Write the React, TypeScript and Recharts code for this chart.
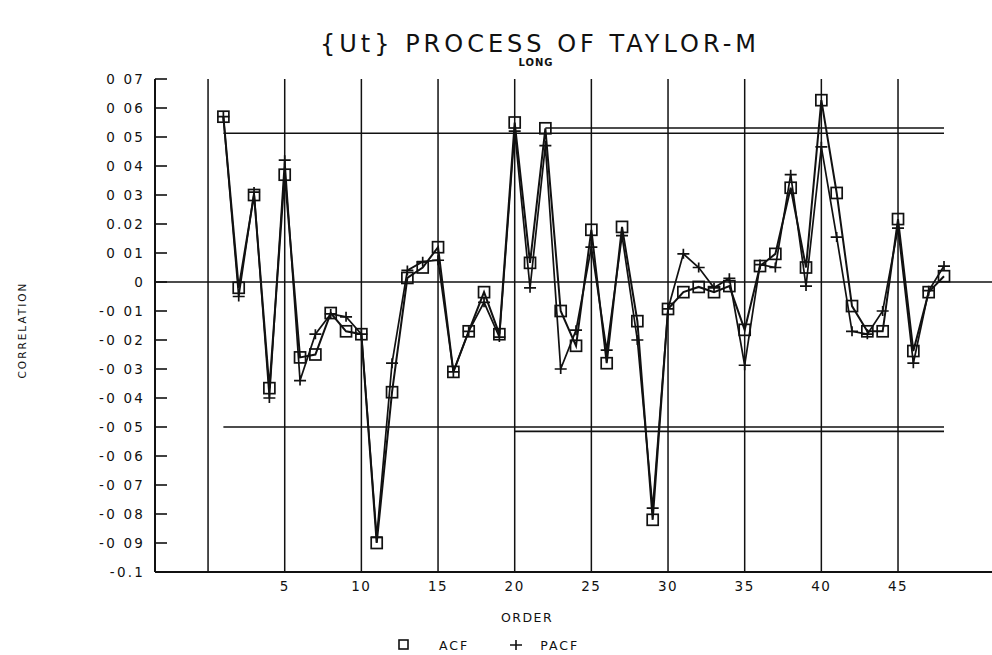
import React from 'react';
import { LineChart, Line, XAxis, YAxis, ReferenceLine } from 'recharts';

const lags = [1, 2, 3, 4, 5, 6, 7, 8, 9, 10, 11, 12, 13, 14, 15, 16, 17, 18, 19, 20, 21, 22, 23, 24, 25, 26, 27, 28, 29, 30, 31, 32, 33, 34, 35, 36, 37, 38, 39, 40, 41, 42, 43, 44, 45, 46, 47, 48];
const acf = [0.057, -0.002, 0.030, -0.0366, 0.037, -0.026, -0.025, -0.0107, -0.017, -0.018, -0.090, -0.038, 0.0014, 0.005, 0.012, -0.031, -0.017, -0.0035, -0.018, 0.055, 0.0066, 0.053, -0.010, -0.022, 0.018, -0.028, 0.019, -0.0135, -0.082, -0.0093, -0.0035, -0.0017, -0.0035, -0.0014, -0.0165, 0.0055, 0.0097, 0.0325, 0.005, 0.0627, 0.0307, -0.0083, -0.017, -0.017, 0.0217, -0.0238, -0.0035, 0.002];
const pacf = [0.057, -0.005, 0.031, -0.040, 0.042, -0.034, -0.018, -0.011, -0.012, -0.018, -0.088, -0.028, 0.004, 0.007, 0.0075, -0.031, -0.017, -0.007, -0.019, 0.052, -0.002, 0.047, -0.030, -0.0166, 0.012, -0.0235, 0.016, -0.020, -0.078, -0.0093, 0.0097, 0.005, -0.002, 0.0013, -0.0287, 0.006, 0.005, 0.037, -0.0014, 0.0466, 0.0155, -0.017, -0.018, -0.010, 0.0186, -0.028, -0.003, 0.0055];

const yTicks = [0.07, 0.06, 0.05, 0.04, 0.03, 0.02, 0.01, 0, -0.01, -0.02, -0.03, -0.04, -0.05, -0.06, -0.07, -0.08, -0.09, -0.1];
const yTickLabels = ['0 07', '0 06', '0 05', '0 04', '0 03', '0.02', '0 01', '0', '-0 01', '-0 02', '-0 03', '-0 04', '-0 05', '-0 06', '-0 07', '-0 08', '-0 09', '-0.1'];
const xTicks = [5, 10, 15, 20, 25, 30, 35, 40, 45];
const gridX = [0, 5, 10, 15, 20, 25, 30, 35, 40, 45];

const bandValues = [0.0513, 0.0531, -0.0500, -0.0515];
const bandStarts = [1, 22, 1, 20];
const bandEnd = 48;

const data = lags.map((lag, i) => ({ lag, acf: acf[i], pacf: pacf[i] }));

const INK = '#111';
const FONT = '"DejaVu Sans", sans-serif';

const SquareDot = (props: any) => {
  const { cx, cy, index } = props;
  if (cx == null || cy == null) return <g key={`s${index}`} />;
  return <rect key={`s${index}`} x={cx - 5.5} y={cy - 5.5} width={11} height={11} fill="none" stroke={INK} strokeWidth={1.7} />;
};

const PlusDot = (props: any) => {
  const { cx, cy, index } = props;
  if (cx == null || cy == null) return <g key={`p${index}`} />;
  return <path key={`p${index}`} d={`M${cx - 6},${cy}H${cx + 6}M${cx},${cy - 5}V${cy + 5}`} stroke={INK} strokeWidth={1.7} fill="none" />;
};

const YTick = (props: any) => {
  const { x, y, payload } = props;
  const idx = yTicks.findIndex((t) => Math.abs(t - payload.value) < 1e-9);
  const label = idx >= 0 ? yTickLabels[idx] : String(payload.value);
  return (
    <g>
      <line x1={x} x2={x + 12} y1={y} y2={y} stroke={INK} strokeWidth={1.6} />
      <text x={x - 10} y={y + 5} textAnchor="end" fontFamily={FONT} fontSize={13.5} letterSpacing={2.2} fill={INK}>
        {label}
      </text>
    </g>
  );
};

const XTick = (props: any) => {
  const { x, y, payload } = props;
  return (
    <text x={x} y={y + 19} textAnchor="middle" fontFamily={FONT} fontSize={13.5} letterSpacing={1.5} fill={INK}>
      {payload.value}
    </text>
  );
};

export default function App() {
  return (
    <div style={{ position: 'absolute', left: 0, top: 0, width: 992, height: 655, background: '#fff', fontFamily: FONT, color: INK }}>
      <div style={{ position: 'absolute', left: 0, width: 992, top: 30, textAlign: 'center', fontSize: 24, letterSpacing: 4, paddingLeft: 88, boxSizing: 'border-box', whiteSpace: 'nowrap' }}>
        {'{Ut}  PROCESS  OF  TAYLOR-M'}
      </div>
      <div style={{ position: 'absolute', left: 0, width: 992, top: 57, textAlign: 'center', fontSize: 10, fontWeight: 'bold', letterSpacing: 1, paddingLeft: 80, boxSizing: 'border-box' }}>
        LONG
      </div>
      <div style={{ position: 'absolute', left: 22, top: 330, transform: 'translate(-50%, -50%) rotate(-90deg)', fontSize: 10.5, letterSpacing: 2, whiteSpace: 'nowrap' }}>
        CORRELATION
      </div>
      <LineChart
        width={992}
        height={655}
        data={data}
        margin={{ top: 79, right: 0, bottom: 53, left: 95 }}
        style={{ position: 'absolute', left: 0, top: 0 }}
      >
        <XAxis
          dataKey="lag"
          type="number"
          domain={[-3.46, 51.13]}
          allowDataOverflow
          ticks={xTicks}
          interval={0}
          height={30}
          tickLine={false}
          tickSize={0}
          tickMargin={0}
          axisLine={{ stroke: INK, strokeWidth: 2 }}
          tick={<XTick />}
        />
        <YAxis
          type="number"
          domain={[-0.1, 0.07]}
          allowDataOverflow
          ticks={yTicks}
          interval={0}
          width={60}
          tickLine={false}
          tickSize={0}
          tickMargin={0}
          axisLine={{ stroke: INK, strokeWidth: 2 }}
          tick={<YTick />}
        />
        {gridX.map((g) => (
          <ReferenceLine key={`gx${g}`} x={g} stroke={INK} strokeWidth={1.5} ifOverflow="extendDomain" />
        ))}
        <ReferenceLine y={0} stroke={INK} strokeWidth={1.7} />
        {bandValues.map((v, i) => (
          <ReferenceLine
            key={`band${i}`}
            segment={[{ x: bandStarts[i], y: v }, { x: bandEnd, y: v }]}
            stroke={INK}
            strokeWidth={1.7}
          />
        ))}
        <Line
          type="linear"
          dataKey="pacf"
          stroke={INK}
          strokeWidth={1.7}
          dot={PlusDot}
          activeDot={false}
          isAnimationActive={false}
        />
        <Line
          type="linear"
          dataKey="acf"
          stroke={INK}
          strokeWidth={2}
          dot={SquareDot}
          activeDot={false}
          isAnimationActive={false}
        />
      </LineChart>
      <div style={{ position: 'absolute', left: 0, width: 992, top: 610, textAlign: 'center', fontSize: 12.5, letterSpacing: 1.5, paddingLeft: 62, boxSizing: 'border-box' }}>
        ORDER
      </div>
      <div style={{ position: 'absolute', left: 397, top: 636, fontSize: 12.5, letterSpacing: 2, whiteSpace: 'nowrap', display: 'flex', alignItems: 'center', height: 18 }}>
        <svg width={14} height={14} style={{ marginRight: 28 }}>
          <rect x={2} y={2} width={9} height={9} fill="none" stroke={INK} strokeWidth={1.6} />
        </svg>
        <span>ACF</span>
        <svg width={14} height={14} style={{ marginLeft: 40, marginRight: 17 }}>
          <path d="M1,7H13M7,2V12" stroke={INK} strokeWidth={1.6} />
        </svg>
        <span>PACF</span>
      </div>
    </div>
  );
}
